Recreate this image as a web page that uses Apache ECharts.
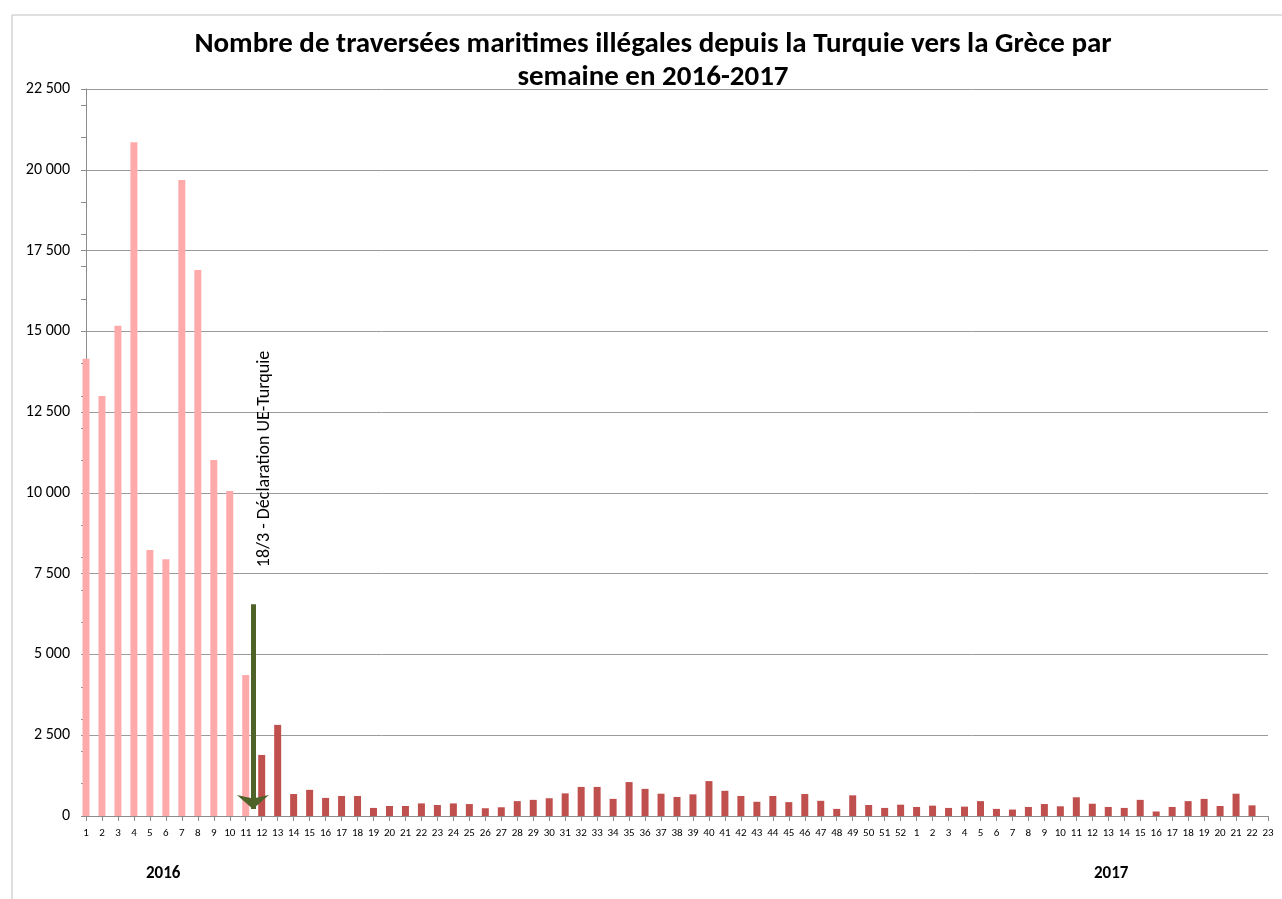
<!DOCTYPE html>
<html>
<head>
<meta charset="utf-8">
<script src="https://cdn.jsdelivr.net/npm/echarts@6/dist/echarts.min.js"></script>
<style>
html,body{margin:0;padding:0;background:#fff;}
#c{width:1282px;height:899px;}
</style>
</head>
<body>
<div id="c"></div>
<script>
// ---- data ----
var weeks2016 = ['1','2','3','4','5','6','7','8','9','10','11','12','13','14','15','16','17','18','19','20','21','22','23','24','25','26','27','28','29','30','31','32','33','34','35','36','37','38','39','40','41','42','43','44','45','46','47','48','49','50','51','52'];
var weeks2017 = ['1','2','3','4','5','6','7','8','9','10','11','12','13','14','15','16','17','18','19','20','21','22','23'];
var crossings2016 = [14150,13000,15170,20850,8230,7950,19680,16900,11020,10060,4360,1890,2820,680,810,560,620,620,250,310,310,390,340,390,370,240,270,460,500,550,700,900,900,530,1050,840,690,590,670,1080,780,620,440,620,430,680,470,220,640,340,250,350];
var crossings2017 = [280,320,250,290,460,220,200,280,370,300,580,380,280,250,500,140,280,460,530,310,690,330,null];
var weeksBeforeAgreement = 11;
var yTicks = [0,2500,5000,7500,10000,12500,15000,17500,20000,22500];
var annotationText = '18/3 - Déclaration UE-Turquie';
var arrowPos = 10.45;       // fractional category index of 18 March 2016
var arrowTopValue = 6550;
var arrowEndValue = 220;
var labelPos = 11.2;
var labelBottomValue = 7700;
var yearLabels = ['2016','2017'];

// ---- build ----
var categories = weeks2016.concat(weeks2017);
var allValues = crossings2016.concat(crossings2017);
var beforeData = allValues.map(function(v,i){ return i < weeksBeforeAgreement ? v : '-'; });
var afterData = allValues.map(function(v,i){ return (i >= weeksBeforeAgreement && v != null) ? v : '-'; });

var FONT = "Carlito, 'Liberation Sans Narrow', 'Liberation Sans', sans-serif";

function fmt(v){ return String(v).replace(/\B(?=(\d{3})+(?!\d))/g, ' '); }

var chart = echarts.init(document.getElementById('c'), null, {renderer:'canvas'});
var option = {
  animation: false,
  backgroundColor: '#fff',
  textStyle: {fontFamily: FONT},
  title: {
    text: 'Nombre de traversées maritimes illégales depuis la Turquie vers la Grèce par\nsemaine en 2016-2017',
    left: 648, top: 23, textAlign: 'center',
    textStyle: {fontFamily: FONT, fontSize: 29, fontWeight: 'bold', color: '#000', lineHeight: 33}
  },
  grid: {left: 86, right: 14, top: 89, bottom: 83, containLabel: false},
  xAxis: [{
    type: 'category', data: categories, boundaryGap: false,
    axisLine: {show: true, lineStyle: {color: '#8C8C8C', width: 1}},
    axisTick: {show: true, interval: 0, length: 5, lineStyle: {color: '#8C8C8C'}},
    axisLabel: {interval: 0, fontSize: 11, color: '#000', margin: 12, fontFamily: FONT},
    splitLine: {show: false}
  },{
    type: 'value', min: 0, max: categories.length - 1, show: false
  }],
  yAxis: [{
    type: 'value', min: 0, max: yTicks[yTicks.length-1], interval: yTicks[1]-yTicks[0],
    axisLine: {show: true, lineStyle: {color: '#8C8C8C'}},
    axisTick: {show: true, length: 5, lineStyle: {color: '#8C8C8C'}},
    axisLabel: {fontSize: 16, color: '#000', margin: 16, fontFamily: FONT, formatter: fmt},
    splitLine: {show: true, lineStyle: {color: '#9A9A9A', width: 1}}
  },{
    type: 'value', min: 0, max: yTicks[yTicks.length-1], interval: 1000, position: 'left',
    axisLine: {show: false},
    axisTick: {show: true, length: 5, lineStyle: {color: '#8C8C8C'}},
    axisLabel: {show: false},
    splitLine: {show: false}
  }],
  series: [{
    type: 'bar', name: 'avant', data: beforeData, barWidth: 7, barGap: '-100%',
    itemStyle: {color: '#FFAAAA'}, clip: true
  },{
    type: 'bar', name: 'après', data: afterData, barWidth: 7, barGap: '-100%',
    itemStyle: {color: '#C0504D'}, clip: true
  },{
    type: 'scatter', xAxisIndex: 1, yAxisIndex: 0, symbolSize: 0, silent: true, z: 10,
    data: [[arrowPos, arrowEndValue]],
    markLine: {
      silent: true, animation: false,
      symbol: ['none','arrow'], symbolSize: [24, 14],
      lineStyle: {color: '#4F6228', width: 5, type: 'solid'},
      itemStyle: {color: '#4F6228'},
      label: {show: false},
      data: [[{coord: [arrowPos, arrowTopValue]}, {coord: [arrowPos, arrowEndValue]}]]
    },
    markPoint: {
      silent: true, animation: false, symbol: 'circle', symbolSize: 1,
      itemStyle: {color: 'rgba(0,0,0,0)'},
      label: {show: true, formatter: annotationText, rotate: 90, position: 'inside',
              align: 'left', verticalAlign: 'middle', fontSize: 18, color: '#000', fontFamily: FONT},
      data: [{coord: [labelPos, labelBottomValue]}]
    }
  }],
  graphic: [{
    type: 'rect', left: 9.5, top: 12.5, shape: {width: 1300, height: 900},
    style: {fill: 'none', stroke: '#BFBFBF', lineWidth: 1}, z: -1, silent: true
  },{
    type: 'text', left: 146, top: 865,
    style: {text: yearLabels[0], font: 'bold 17px ' + FONT, fill: '#000'}
  },{
    type: 'text', left: 1094, top: 865,
    style: {text: yearLabels[1], font: 'bold 17px ' + FONT, fill: '#000'}
  }]
};
chart.setOption(option);
</script>
</body>
</html>
